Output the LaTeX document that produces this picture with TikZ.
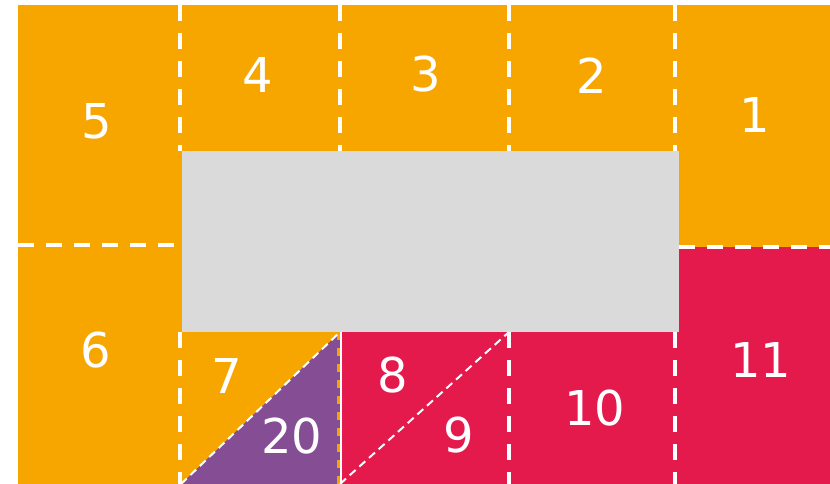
\documentclass[tikz,border=0pt]{standalone}
\usepackage{fontspec}
\setsansfont{DejaVu Sans}
\definecolor{amber}{HTML}{F7A600}
\definecolor{crimson}{HTML}{E4194C}
\definecolor{plum}{HTML}{854E94}
\definecolor{slab}{HTML}{DADADA}

\begin{document}
\begin{tikzpicture}[x=1pt,y=-1pt,
    num/.style={text=white, inner sep=0pt, font=\sffamily\fontsize{48}{52}\selectfont},
    seam/.style={white, line width=4.5pt, dash pattern=on 16pt off 12pt},
    cut/.style={white, line width=2pt, dash pattern=on 8pt off 5pt}]
  \useasboundingbox (0,0) rectangle (830,484);
  \fill[amber] (18,5) rectangle (830,484);
  \fill[crimson] (340,332) rectangle (679,484);
  \fill[crimson] (679,247) rectangle (830,484);
  \fill[plum] (181,484) -- (340,332) -- (340,484) -- cycle;
  \foreach \x in {180,340,509,675}
    \draw[seam] (\x,5) -- (\x,151);
  \foreach \x in {180,509,675}
    \draw[seam] (\x,332) -- (\x,484);
  \draw[amber,line width=3pt,dash pattern=on 8pt off 8pt] (338,332) -- (338,484);
  \draw[white,line width=1.5pt] (341,332) -- (341,484);
  \draw[seam] (18,245) -- (181,245);
  \draw[seam] (679,247) -- (830,247);
  \fill[slab] (181.5,151) rectangle (679,332);
  \draw[cut] (181,484) -- (340,332);
  \draw[cut] (340,484) -- (509,332);
  \foreach \n/\x/\y in {5/97/121, 4/258/75, 3/426/74, 2/592/76, 1/755/115,
      6/96/350, 7/227/376, 20/292/436, 8/393/375, 9/459/435, 10/595/408, 11/761/360}
    \node[num] (c\n) at (\x,\y) {\n};
\end{tikzpicture}
\end{document}
